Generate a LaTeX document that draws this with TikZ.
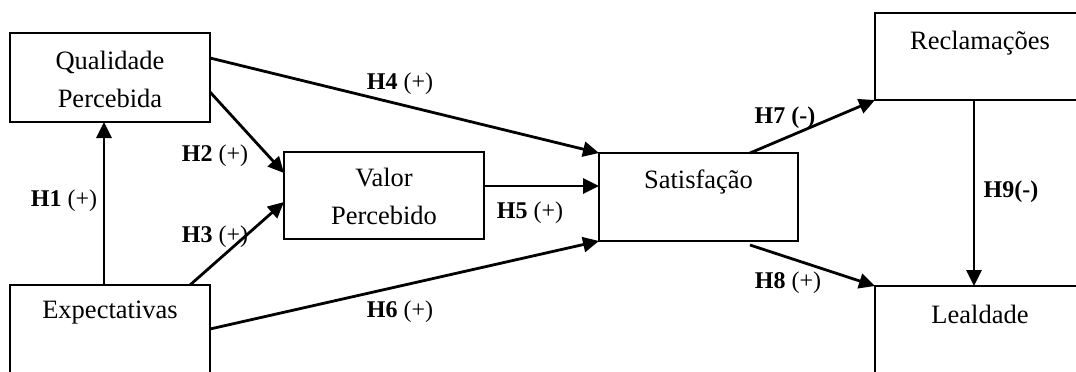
\documentclass[tikz,border=0pt]{standalone}
\usepackage{fontspec}
\setmainfont{Liberation Serif}
\usetikzlibrary{arrows.meta,fit}
\begin{document}
\begin{tikzpicture}[x=0.5pt,y=-0.5pt,
  box/.style={draw,line width=1pt,inner sep=0pt,outer sep=0pt},
  txt/.style={font=\fontsize{13.25}{16}\selectfont,align=center,inner sep=0pt},
  hyp/.style={font=\fontsize{12}{14}\selectfont,inner sep=0pt},
  arr/.style={line width=1.4pt,-{Triangle[length=8pt,width=7.5pt]}}]
\useasboundingbox (0,0) rectangle (1076,371);
\clip (0,0) rectangle (1076,371);

% constructs
\node[box,fit={(10,33) (210,122)}] (qual) {};
\node[box,fit={(284,152) (484,239)}] (valor) {};
\node[box,fit={(599,153) (798,241)}] (satis) {};
\node[box,fit={(10,285) (210,400)}] (expect) {};
\node[box,fit={(875,13) (1080,100)}] (recl) {};
\node[box,fit={(875,286) (1080,400)}] (leal) {};

% construct names
\node[txt] (tqual) at (110,79) {Qualidade\\[3pt]Percebida};
\node[txt] (tvalor) at (384,196) {Valor\\[3pt]Percebido};
\node[txt] (tsatis) at (698.5,182) {Satisfação};
\node[txt] (texpect) at (110,313) {Expectativas};
\node[txt] (trecl) at (980,43) {Reclamações};
\node[txt] (tleal) at (980,314) {Lealdade};

% hypothesised paths
\draw[arr] ([shift={(-6,0)}]expect.north) -- ([shift={(-6,0)}]qual.south);
\draw[arr] ([shift={(0,14.5)}]qual.east) -- ([shift={(0,-22.5)}]valor.west);
\draw[arr] ([shift={(80,0)}]expect.north) -- ([shift={(0,6.5)}]valor.west);
\draw[arr] ([shift={(0,-19.5)}]qual.east) -- (satis.north west);
\draw[arr] ([shift={(0,-9.5)}]valor.east) -- ([shift={(0,-11)}]satis.west);
\draw[arr] ([shift={(0,-13.5)}]expect.east) -- (satis.south west);
\draw[arr] ([shift={(51.5,0)}]satis.north) -- (recl.south west);
\draw[arr] ([shift={(51.5,4)}]satis.south) -- (leal.north west);
\draw[arr] ([shift={(-3.5,0)}]recl.south) -- ([shift={(-3.5,0)}]leal.north);

% path labels
\node[hyp] (h1) at (64,201) {\textbf{H1} (+)};
\node[hyp] (h2) at (215,156) {\textbf{H2} (+)};
\node[hyp] (h3) at (215,237) {\textbf{H3} (+)};
\node[hyp] (h4) at (400,84) {\textbf{H4} (+)};
\node[hyp] (h5) at (530,213) {\textbf{H5} (+)};
\node[hyp] (h6) at (400,312) {\textbf{H6} (+)};
\node[hyp] (h7) at (785,118) {\textbf{H7 (-)}};
\node[hyp] (h8) at (788,283) {\textbf{H8} (+)};
\node[hyp] (h9) at (1011,192) {\textbf{H9(-)}};
\end{tikzpicture}
\end{document}
